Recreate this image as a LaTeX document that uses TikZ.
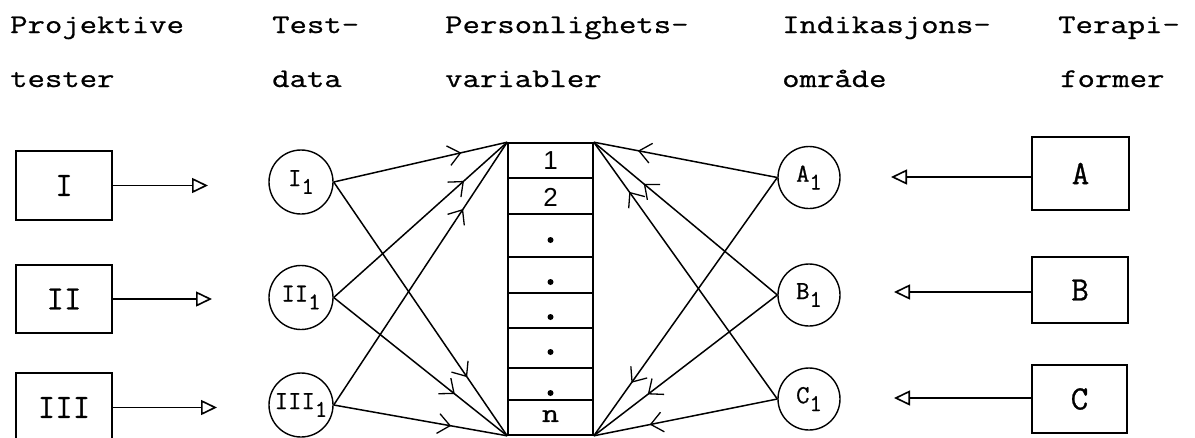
\documentclass[tikz,border=0pt]{standalone}
\usepackage{fontspec}
\newfontfamily\tw[FakeStretch=1.25,FakeBold=0.8]{Latin Modern Mono}
\newfontfamily\twb[FakeBold=0.8]{Latin Modern Mono}
\newfontfamily\sansf{Liberation Sans}
\usetikzlibrary{arrows.meta,decorations.markings}
\newcommand\subone{\raisebox{-0.3em}{\fontsize{24}{24}\selectfont 1}}
\begin{document}
\begin{tikzpicture}[x=1pt,y=-1pt,
  hdr/.style={anchor=base west,inner sep=0pt,font=\tw\fontsize{27}{27}\selectfont},
  lbox/.style={draw,line width=1.8pt,inner sep=0pt,font=\twb\fontsize{34}{34}\selectfont},
  circ/.style={draw,circle,line width=1.4pt,inner sep=0pt,font=\twb\fontsize{26}{26}\selectfont},
  harr/.style={line width=1.5pt,-{Triangle[open,length=16pt,width=15pt,fill=white,line width=1.6pt]}},
  conn/.style={line width=1.5pt},
  marr/.style={postaction={decorate,decoration={markings,mark=at position #1 with {\arrow[line width=1.3pt]{Straight Barb[length=12pt,width=20pt]}}}}},
  dotc/.style={fill,circle,inner sep=0pt,minimum size=6pt}
]
\useasboundingbox (0,0) rectangle (1195,437);
\clip (0,0) rectangle (1195,437);

% headers
\node[hdr] (h1a) at (10,33) {Projektive};
\node[hdr] (h1b) at (10,87) {tester};
\node[hdr] (h2a) at (272,33) {Test-};
\node[hdr] (h2b) at (272,87) {data};
\node[hdr] (h3a) at (445,33) {Personlighets-};
\node[hdr] (h3b) at (445,87) {variabler};
\node[hdr] (h4a) at (782,33) {Indikasjons-};
\node[hdr] (h4b) at (782,87) {område};
\node[hdr] (h5a) at (1058,33) {Terapi-};
\node[hdr] (h5b) at (1060,87) {former};

% left boxes
\node[lbox,minimum width=96,minimum height=69] (bI) at (64,185.5) {I};
\node[lbox,minimum width=96,minimum height=68] (bII) at (64,299) {II};
\node[lbox,minimum width=96,minimum height=69] (bIII) at (64,407.5) {III};
\coordinate (tI) at (208,185.5);
\coordinate (tII) at (212,299);
\coordinate (tIII) at (217,407.5);
\draw[harr] (bI.east) -- (tI);
\draw[harr] (bII.east) -- (tII);
\draw[harr] (bIII.east) -- (tIII);

% left circles
\node[circ,minimum size=64] (c1) at (301,182) {I\subone};
\node[circ,minimum size=64] (c2) at (301,297.5) {II\subone};
\node[circ,minimum size=64] (c3) at (301,405) {III\subone};

% column
\node[draw,line width=1.6pt,minimum width=85,minimum height=292,inner sep=0pt] (col) at (550.5,289) {};
\foreach \yy in {178,214,257,293,328,368,400}
  \draw[line width=1.4pt] (col.west |- 0,\yy) -- (col.east |- 0,\yy);
\node[font=\sansf\fontsize{26}{26}\selectfont] (r1) at (550.5,161) {1};
\node[font=\sansf\fontsize{26}{26}\selectfont] (r2) at (550.5,197) {2};
\node[dotc] (d1) at (550.5,240) {};
\node[dotc] (d2) at (550.5,282) {};
\node[dotc] (d3) at (550.5,317) {};
\node[dotc] (d4) at (550.5,352) {};
\node[dotc] (d5) at (550.5,393) {};
\node[font=\tw\fontsize{27}{27}\selectfont] (rn) at (550.5,416) {n};

% right circles
\node[circ,minimum size=62] (a1) at (809,177.5) {A\subone};
\node[circ,minimum size=62] (b1) at (809,295) {B\subone};
\node[circ,minimum size=62] (cc1) at (809,399) {C\subone};

% right boxes
\node[lbox,minimum width=97,minimum height=73] (bA) at (1080.5,173.5) {A};
\node[lbox,minimum width=96,minimum height=66] (bB) at (1080,290) {B};
\node[lbox,minimum width=95,minimum height=68] (bC) at (1079.5,399) {C};
\coordinate (tA) at (891,177);
\coordinate (tB) at (894,292);
\coordinate (tC) at (894,398);
\draw[harr] (bA.west |- tA) -- (tA);
\draw[harr] (bB.west |- tB) -- (tB);
\draw[harr] (bC.west |- tC) -- (tC);

% left connectors
\draw[conn,marr=-47pt] (c1.east) -- (col.north west);
\draw[conn,marr=-71pt] (c1.east) -- (col.south west);
\draw[conn,marr=-58pt] (c2.east) -- (col.north west);
\draw[conn,marr=-67pt] (c2.east) -- (col.south west);
\draw[conn,marr=-80pt] (c3.east) -- (col.north west);
\draw[conn,marr=-57pt] (c3.east) -- (col.south west);

% right connectors
\draw[conn,marr=-45pt] (a1.west) -- (col.north east);
\draw[conn,marr=-65pt] (a1.west) -- (col.south east);
\draw[conn,marr=-65pt] (b1.west) -- (col.north east);
\draw[conn,marr=-68pt] (b1.west) -- (col.south east);
\draw[conn,marr=-61pt] (cc1.west) -- (col.north east);
\draw[conn,marr=-57pt] (cc1.west) -- (col.south east);
\end{tikzpicture}
\end{document}
